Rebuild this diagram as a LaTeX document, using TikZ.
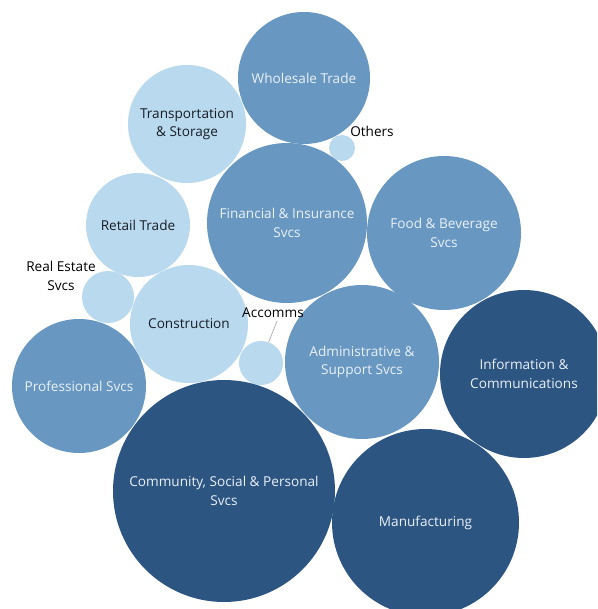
\documentclass[tikz,border=0pt]{standalone}
\usepackage{fontspec}
\setmainfont{Open Sans}
\usetikzlibrary{calc}
\definecolor{lightb}{RGB}{184,217,238}
\definecolor{medb}{RGB}{104,152,194}
\definecolor{darkb}{RGB}{44,85,130}
\definecolor{txtdark}{RGB}{25,30,38}
\definecolor{txtlight}{RGB}{234,240,246}
\tikzset{
  bubble/.style={circle, inner sep=0pt, outer sep=0pt, align=center, font=\fontsize{13.6}{18.5}\selectfont},
  lb/.style={bubble, fill=lightb, text=txtdark},
  mb/.style={bubble, fill=medb, text=txtlight},
  db/.style={bubble, fill=darkb, text=txtlight},
  outlbl/.style={inner sep=1pt, align=center, text=black, font=\fontsize{13.6}{18.5}\selectfont},
  leader/.style={draw=gray!70, line width=0.6pt}
}
\begin{document}
\begin{tikzpicture}[x=1pt,y=-1pt]
\useasboundingbox (0,0) rectangle (597,609);
\clip (0,0) rectangle (597,609);
\fill[white] (0,0) rectangle (597,609);
\node[mb, minimum size=132pt] (wt) at (304,78) {Wholesale Trade};
\node[lb, minimum size=118pt] (ts) at (187,124) {Transportation\\\& Storage};
\node[lb, minimum size=26pt] (oth) at (342,148) {};
\node[mb, minimum size=160pt] (fi) at (287,223) {Financial \& Insurance\\Svcs};
\node[mb, minimum size=154pt] (fb) at (444,233) {Food \& Beverage\\Svcs};
\node[lb, minimum size=104pt] (rt) at (138,225) {Retail Trade};
\node[lb, minimum size=52pt] (re) at (108,297) {};
\node[lb, minimum size=118pt] (con) at (189,324) {Construction};
\node[lb, minimum size=44pt] (acc) at (261,363) {};
\node[mb, minimum size=154pt] (adm) at (362,362) {Administrative \&\\Support Svcs};
\node[db, minimum size=168pt] (ic) at (524,374) {Information \&\\Communications};
\node[mb, minimum size=134pt] (ps) at (79,386) {Professional Svcs};
\node[db, minimum size=222pt] (csp) at (224,491) {Community, Social \& Personal\\Svcs};
\node[db, minimum size=187pt] (mf) at (425.5,522.5) {Manufacturing};
\node[outlbl] (othl) at (372,131) {Others};
\node[outlbl] (rel) at (61,276) {Real Estate\\Svcs};
\node[outlbl] (accl) at (273,313) {Accomms};
\draw[leader] ($(accl.south)+(4,2)$) -- (acc.70);
\end{tikzpicture}
\end{document}
